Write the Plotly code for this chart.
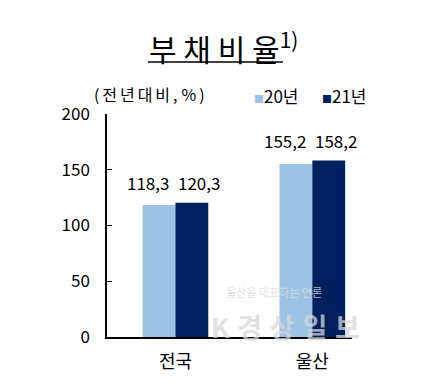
import plotly.graph_objects as go

categories = ["전국", "울산"]
series_names = ["20년", "21년"]
values_20 = [118.3, 155.2]
values_21 = [120.3, 158.2]
label_20 = ["118,3", "155,2"]
label_21 = ["120,3", "158,2"]
y_ticks = [0, 50, 100, 150, 200]

c20 = "#9DC3E6"
c21 = "#001F5F"
font_k = "Noto Sans CJK KR"


def spaced(s, gap=6):
    sp = f"<span style='font-size:{gap}px'> </span>"
    return sp.join(list(s))


fig = go.Figure()
fig.add_trace(go.Bar(x=categories, y=values_20, name=series_names[0], marker_color=c20,
                     marker_line_width=0, showlegend=False))
fig.add_trace(go.Bar(x=categories, y=values_21, name=series_names[1], marker_color=c21,
                     marker_line_width=0, showlegend=False))

# value labels
for i, cat in enumerate(categories):
    top = max(values_20[i], values_21[i])
    fig.add_annotation(x=cat, y=top, text=label_20[i], showarrow=False, xref="x", yref="y",
                       xshift=-27, yshift=20, font=dict(family=font_k, size=17, color="#000"))
    fig.add_annotation(x=cat, y=top, text=label_21[i], showarrow=False, xref="x", yref="y",
                       xshift=24, yshift=20, font=dict(family=font_k, size=17, color="#000"))

# legend (drawn as text keys)
fig.add_annotation(x=0.59, y=1.085, xref="paper", yref="paper", xanchor="left", yanchor="middle",
                   showarrow=False,
                   text=f"<span style='color:{c20};font-size:10px'>■</span>{series_names[0]}",
                   font=dict(family=font_k, size=17, color="#000"))
fig.add_annotation(x=0.87, y=1.085, xref="paper", yref="paper", xanchor="left", yanchor="middle",
                   showarrow=False,
                   text=f"<span style='color:{c21};font-size:10px'>■</span>{series_names[1]}",
                   font=dict(family=font_k, size=17, color="#000"))

# title
fig.add_annotation(x=0.163, y=1.30, xref="paper", yref="paper", xanchor="left", yanchor="middle",
                   showarrow=False,
                   text=spaced("부채비율", 30) + "<sup>1)</sup>",
                   font=dict(family=font_k, size=30, color="#000"))
fig.add_shape(type="line", xref="paper", yref="paper", x0=0.167, x1=0.718, y0=1.233, y1=1.233,
              line=dict(color="#000", width=1.5))
fig.add_annotation(x=-0.063, y=1.094, xref="paper", yref="paper", xanchor="left", yanchor="middle",
                   showarrow=False,
                   text=spaced("(전년대비,", 13) + "<span style='font-size:18px'> </span>"
                   + spaced("%)", 13),
                   font=dict(family=font_k, size=16, color="#000"))
# watermark
fig.add_annotation(x=0.68, y=0.155, xref="paper", yref="paper", xanchor="center", showarrow=False,
                   text="울산을 대표하는 언론",
                   font=dict(family=font_k, size=11, color="rgba(220,220,220,0.85)"))
fig.add_annotation(x=0.73, y=0.06, xref="paper", yref="paper", xanchor="center",
                   yanchor="middle", showarrow=False,
                   text="<b>" + spaced("K경상일보", 34) + "</b>",
                   font=dict(family=font_k, size=27, color="rgba(215,215,215,0.75)"))

fig.update_layout(
    width=424, height=385,
    margin=dict(l=107, r=72, t=114, b=48),
    paper_bgcolor="white", plot_bgcolor="white",
    barmode="group", bargap=0.52, bargroupgap=0,
    showlegend=False,
    font=dict(family=font_k, color="#000"),
)
fig.update_xaxes(range=[-0.5, 1.29], showline=True, linecolor="#000", linewidth=1.5,
                 ticks="", tickfont=dict(family=font_k, size=18, color="#000"), showgrid=False,
                 ticklabelstandoff=8)
fig.update_yaxes(range=[0, 200], tickvals=y_ticks, showline=True, linecolor="#000", linewidth=1.5,
                 ticks="inside", ticklen=5, tickcolor="#000", showgrid=False, zeroline=False,
                 tickfont=dict(family=font_k, size=17, color="#000"), ticklabelstandoff=12)

fig.write_html("out.html")
